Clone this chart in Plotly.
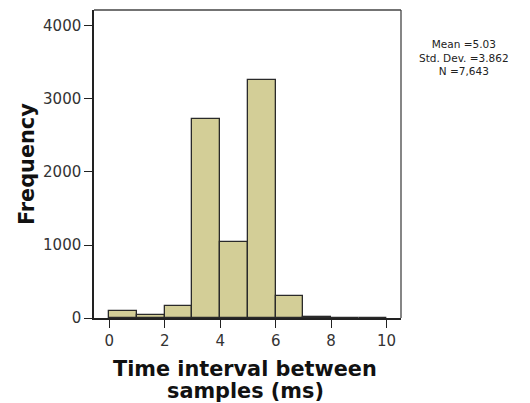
import plotly.graph_objects as go

bin_left = [0, 1, 2, 3, 4, 5, 6, 7, 8, 9]
frequency = [95, 40, 160, 2720, 1040, 3262, 300, 20, 4, 2]
x_ticks = [0, 2, 4, 6, 8, 10]
y_ticks = [0, 1000, 2000, 3000, 4000]
stats_lines = ["Mean =5.03", "Std. Dev. =3.862", "N =7,643"]
x_title_lines = ["Time interval between", "samples (ms)"]
y_title = "Frequency"

centers = [b + 0.5 for b in bin_left]

fig = go.Figure()
fig.add_trace(go.Bar(
    x=centers, y=frequency, width=1,
    marker=dict(color="#D3CE97", line=dict(color="#2a2a2a", width=1.3)),
))

font = "DejaVu Sans"
fig.update_layout(
    width=522, height=395,
    margin=dict(l=86, r=129, t=2, b=85),
    plot_bgcolor="white", paper_bgcolor="white",
    showlegend=False, bargap=0,
    font=dict(family=font, color="#222222"),
    xaxis=dict(
        range=[-0.55, 10.52], tickvals=x_ticks, ticktext=[str(v) for v in x_ticks],
        ticks="outside", ticklen=8, tickwidth=1.3, tickcolor="#222222",
        showline=True, linecolor="#222222", linewidth=1.5, mirror=False,
        showgrid=False, zeroline=False, ticklabelstandoff=0,
        tickfont=dict(size=15, family=font, color="#333333"),
    ),
    yaxis=dict(
        range=[0, 4219], tickvals=y_ticks, ticktext=[str(v) for v in y_ticks],
        ticks="outside", ticklen=8, tickwidth=1.3, tickcolor="#222222",
        showline=True, linecolor="#222222", linewidth=1.5,
        showgrid=False, zeroline=False,
        tickfont=dict(size=15, family=font, color="#333333"),
    ),
)

fig.add_shape(type="line", xref="paper", yref="paper", x0=0, x1=1, y0=1, y1=1,
              line=dict(color="#444444", width=1.3))
fig.add_shape(type="line", xref="paper", yref="paper", x0=1, x1=1, y0=0, y1=1,
              line=dict(color="#444444", width=1.3))

# axis titles
fig.add_annotation(xref="paper", yref="paper", x=0.4919, y=-0.1656,
                   xanchor="center", yanchor="middle", showarrow=False,
                   text="<b>" + x_title_lines[0] + "</b>",
                   font=dict(size=20.8, family=font, color="#111111"))
fig.add_annotation(xref="paper", yref="paper", x=0.4919, y=-0.237,
                   xanchor="center", yanchor="middle", showarrow=False,
                   text="<b>" + x_title_lines[1] + "</b>",
                   font=dict(size=20.8, family=font, color="#111111"))
fig.add_annotation(xref="paper", yref="paper", x=-0.2182, y=0.5,
                   xanchor="center", yanchor="middle", showarrow=False,
                   textangle=-90, text="<b>" + y_title + "</b>",
                   font=dict(size=20.8, family=font, color="#111111"))

# statistics box
fig.add_annotation(xref="paper", yref="paper", x=1.205, y=0.8446,
                   xanchor="center", yanchor="middle", showarrow=False,
                   align="center", borderpad=0,
                   text="<br>".join(stats_lines),
                   font=dict(size=10.5, family=font, color="#222222"))

fig.write_html("out.html")
